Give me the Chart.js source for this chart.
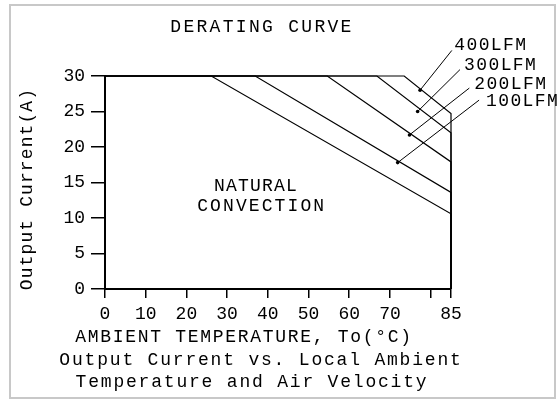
<!DOCTYPE html>
<html>
<head>
<meta charset="utf-8">
<script src="https://cdn.jsdelivr.net/npm/chart.js@4.4.1/dist/chart.umd.min.js"></script>
<style>
  html, body { margin: 0; padding: 0; background: #fff; }
  canvas { display: block; }
</style>
</head>
<body>
<canvas id="derating" width="558" height="401"></canvas>
<script>
// axis ticks
const xTicks = [0, 10, 20, 30, 40, 50, 60, 70, 80, 85];
const xTickLabels = ['0', '10', '20', '30', '40', '50', '60', '70', '', '85'];
const yTicks = [0, 5, 10, 15, 20, 25, 30];

// derating curves: [temperature °C, output current A]
const natural = [[0, 30], [26.1, 30], [85, 10.6], [85, 0]];
const lfm100 = [[0, 30], [36.9, 30], [85, 13.6], [85, 0]];
const lfm200 = [[0, 30], [54.6, 30], [85, 17.9], [85, 0]];
const lfm300 = [[0, 30], [66.8, 30], [85, 22.0], [85, 0]];
const lfm400 = [[0, 30], [73.5, 30], [85, 24.7], [85, 0]];

// leader lines from the labels down to the curves
const airLabels = ['400LFM', '300LFM', '200LFM', '100LFM'];
const leaderFrom = [[85.2, 33.6], [87.2, 30.9], [89.5, 28.3], [91.9, 26.6]];
const leaderTo = [[77.4, 28.0], [76.8, 25.0], [74.8, 21.7], [71.9, 17.8]];
const labelAt = [[85.8, 34.4], [88.2, 31.5], [90.7, 28.9], [93.6, 26.4]];

const FONT = '"Liberation Mono", "DejaVu Sans Mono", monospace';

const toXY = pts => pts.map(([x, y]) => ({ x, y }));

const curveSets = [natural, lfm100, lfm200, lfm300, lfm400].map(pts => ({
    data: toXY(pts),
    showLine: true,
    borderColor: '#000',
    borderWidth: 1.2,
    pointRadius: 0,
    clip: false
}));

const leaderSets = leaderFrom.map((p, i) => ({
    data: toXY([p, leaderTo[i]]),
    showLine: true,
    borderColor: '#000',
    borderWidth: 1,
    pointRadius: [0, 1.8],
    pointBackgroundColor: '#000',
    pointBorderWidth: 0,
    clip: false
}));

// texts and the grey frame
const textPlugin = {
    id: 'texts',
    beforeDraw(chart) {
        const c = chart.ctx;
        c.save();
        c.strokeStyle = '#c8c8c8';
        c.lineWidth = 2;
        c.strokeRect(10, 5, 545, 393);
        c.restore();
        c.letterSpacing = '0px';
    },
    afterDraw(chart) {
        const c = chart.ctx;
        const xs = chart.scales.x, ys = chart.scales.y;
        const put = (txt, x, y, spacing, align) => {
            c.letterSpacing = spacing + 'px';
            c.textAlign = align || 'center';
            c.fillText(txt, x, y);
        };
        c.save();
        c.fillStyle = '#000';
        c.font = '18px ' + FONT;
        c.textBaseline = 'middle';

        put('DERATING CURVE', 262, 27, 2.3);
        put('AMBIENT TEMPERATURE, To(°C)', 244, 337, 1.7);
        put('Output Current vs. Local Ambient', 261, 360, 1.8);
        put('Temperature and Air Velocity', 252, 382, 1.8);

        put('NATURAL', xs.getPixelForValue(37.1), ys.getPixelForValue(14.5), 1.2);
        put('CONVECTION', xs.getPixelForValue(38.5), ys.getPixelForValue(11.6), 2.1);

        airLabels.forEach((t, i) => {
            put(t, xs.getPixelForValue(labelAt[i][0]), ys.getPixelForValue(labelAt[i][1]), 1.4, 'left');
        });

        c.save();
        c.translate(27, 189);
        c.rotate(-Math.PI / 2);
        put('Output Current(A)', 0, 0, 1.1);
        c.restore();
        c.restore();
    }
};

new Chart(document.getElementById('derating').getContext('2d'), {
    type: 'scatter',
    data: { datasets: [...curveSets, ...leaderSets] },
    plugins: [textPlugin],
    options: {
        responsive: false,
        animation: false,
        layout: { padding: { left: 10, top: 76, right: 107, bottom: 0 } },
        plugins: {
            legend: { display: false },
            tooltip: { enabled: false }
        },
        scales: {
            x: {
                type: 'linear',
                min: 0,
                max: 85,
                afterBuildTicks: s => { s.ticks = xTicks.map(v => ({ value: v })); },
                afterFit: s => { s.height = 112; },
                ticks: {
                    autoSkip: false,
                    maxRotation: 0,
                    padding: 5,
                    color: '#000',
                    font: { family: FONT, size: 18 },
                    callback: (v, i) => xTickLabels[i]
                },
                grid: { drawOnChartArea: false, tickLength: 9, color: '#000', lineWidth: 1.5 },
                border: { color: '#000', width: 2 }
            },
            y: {
                min: 0,
                max: 30,
                afterBuildTicks: s => { s.ticks = yTicks.map(v => ({ value: v })); },
                afterFit: s => { s.width = 95; },
                ticks: {
                    padding: 6,
                    color: '#000',
                    font: { family: FONT, size: 18 }
                },
                grid: { drawOnChartArea: false, tickLength: 14, color: '#000', lineWidth: 1.5 },
                border: { color: '#000', width: 2 }
            }
        }
    }
});
</script>
</body>
</html>
